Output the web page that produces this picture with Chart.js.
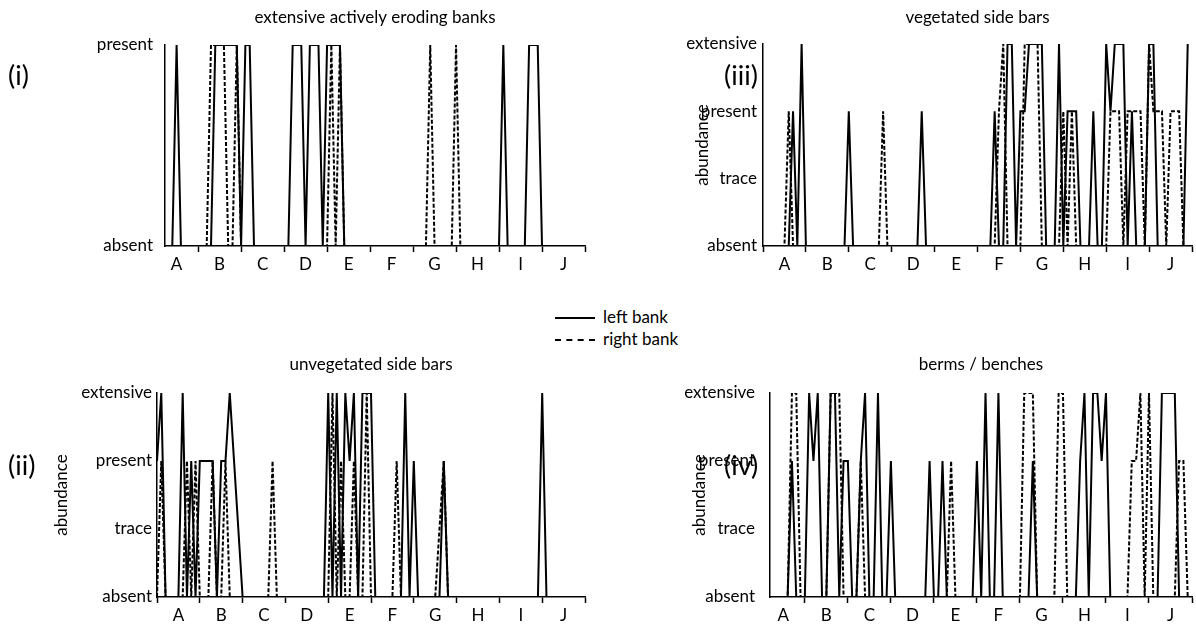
<!DOCTYPE html>
<html>
<head>
<meta charset="utf-8">
<script src="https://cdn.jsdelivr.net/npm/chart.js@4"></script>
<style>
  body { margin: 0; width: 1196px; height: 626px; background: #fff; position: relative; overflow: hidden; font-family: Lato, sans-serif; color: #000; }
  canvas { position: absolute; }
  .tag { position: absolute; font-size: 27px; line-height: 28px; }
  .leg-line { position: absolute; width: 40px; height: 0; }
  .leg-text { position: absolute; font-size: 17px; line-height: 20px; white-space: nowrap; }
</style>
</head>
<body>
<canvas id="c1" width="600" height="280" style="left:0;top:0"></canvas>
<canvas id="c3" width="596" height="280" style="left:600px;top:0"></canvas>
<canvas id="c2" width="600" height="276" style="left:0;top:350px"></canvas>
<canvas id="c4" width="596" height="276" style="left:600px;top:350px"></canvas>

<div class="tag" style="left:8px;top:61px">(i)</div>
<div class="tag" style="left:724px;top:61px">(iii)</div>
<div class="tag" style="left:8px;top:451px">(ii)</div>
<div class="tag" style="left:724px;top:451px">(iv)</div>

<div class="leg-line" style="left:555px;top:317px;border-top:2px solid #000"></div>
<div class="leg-text" style="left:603px;top:307px">left bank</div>
<div class="leg-line" style="left:555px;top:339px;border-top:2px dashed #000"></div>
<div class="leg-text" style="left:603px;top:329px">right bank</div>

<script>
// river reaches along the x axis, 10 survey points per reach
const reaches = ['A', 'B', 'C', 'D', 'E', 'F', 'G', 'H', 'I', 'J'];
const presenceLevels = ['absent', 'present'];
const abundanceLevels = ['absent', 'trace', 'present', 'extensive'];

// (i) extensive actively eroding banks
const erodingLeft = [
  0,0,0,0,0,1,0,0,0,0,
  0,0,0,0,1,1,1,1,1,1,
  0,1,1,0,0,0,0,0,0,0,
  0,0,1,1,1,0,1,1,1,0,
  1,1,1,1,0,0,0,0,0,0,
  0,0,0,0,0,0,0,0,0,0,
  0,0,0,0,0,0,0,0,0,0,
  0,0,0,0,0,0,0,0,0,0,
  0,1,0,0,0,0,0,1,1,1,
  0,0,0,0,0,0,0,0,0,0
];
const erodingRight = [
  0,0,0,0,0,0,0,0,0,0,
  0,0,0,1,1,1,1,0,0,1,
  0,0,0,0,0,0,0,0,0,0,
  0,0,0,0,0,0,0,0,0,0,
  0,1,0,1,0,0,0,0,0,0,
  0,0,0,0,0,0,0,0,0,0,
  0,0,0,0,1,0,0,0,0,0,
  1,0,0,0,0,0,0,0,0,0,
  0,0,0,0,0,0,0,0,0,0,
  0,0,0,0,0,0,0,0,0,0
];

// (ii) unvegetated side bars
const unvegLeft = [
  2,3,0,0,0,0,3,0,2,0,
  2,2,2,2,0,2,2,3,2,1,
  0,0,0,0,0,0,0,0,0,0,
  0,0,0,0,0,0,0,0,0,0,
  3,0,3,0,3,2,3,0,3,3,
  3,0,0,0,0,0,0,0,3,0,
  2,0,0,0,0,0,0,2,0,0,
  0,0,0,0,0,0,0,0,0,0,
  0,0,0,0,0,0,0,0,0,0,
  3,0,0,0,0,0,0,0,0,0
];
const unvegRight = [
  0,2,0,0,0,0,0,2,0,2,
  0,0,0,2,0,0,2,0,0,0,
  0,0,0,0,0,0,0,2,0,0,
  0,0,0,0,0,0,0,0,0,0,
  0,3,0,2,0,0,2,0,0,3,
  0,0,0,0,0,0,2,0,0,0,
  0,0,0,0,0,0,1,2,0,0,
  0,0,0,0,0,0,0,0,0,0,
  0,0,0,0,0,0,0,0,0,0,
  0,0,0,0,0,0,0,0,0,0
];

// (iii) vegetated side bars
const vegLeft = [
  0,0,0,0,0,0,0,2,0,3,
  0,0,0,0,0,0,0,0,0,0,
  2,0,0,0,0,0,0,0,0,0,
  0,0,0,0,0,0,0,2,0,0,
  0,0,0,0,0,0,0,0,0,0,
  0,0,0,0,2,0,0,3,3,0,
  2,2,3,3,3,3,0,0,0,3,
  0,2,2,2,0,0,0,2,0,0,
  3,2,3,3,3,0,2,0,0,0,
  3,3,0,0,0,0,0,0,0,3
];
const vegRight = [
  0,0,0,0,0,0,2,0,0,0,
  0,0,0,0,0,0,0,0,0,0,
  0,0,0,0,0,0,0,0,2,0,
  0,0,0,0,0,0,0,0,0,0,
  0,0,0,0,0,0,0,0,0,0,
  0,0,0,0,0,2,3,0,0,0,
  0,3,3,3,3,0,0,0,0,0,
  2,0,2,0,0,0,0,0,0,0,
  0,2,2,2,0,2,2,2,2,0,
  3,2,2,2,0,2,2,2,0,0
];

// (iv) berms / benches
const bermLeft = [
  0,0,0,0,0,0,0,2,0,0,
  0,3,2,3,0,0,3,3,0,2,
  2,0,0,2,3,0,0,3,0,0,
  2,0,0,0,0,0,0,0,0,2,
  0,0,2,0,0,0,0,0,0,0,
  2,0,3,0,0,3,0,0,0,0,
  0,0,0,2,0,0,0,0,0,0,
  0,0,0,0,2,3,0,3,3,2,
  3,0,0,0,0,0,0,0,0,0,
  0,0,0,3,3,3,3,0,0,0
];
const bermRight = [
  0,0,0,0,0,0,0,3,3,0,
  0,0,0,0,0,0,3,3,3,0,
  0,0,0,2,0,0,0,0,0,0,
  0,0,0,0,0,0,0,0,0,0,
  0,0,0,0,2,0,0,0,0,0,
  0,0,0,0,0,0,0,0,0,0,
  0,3,3,3,0,0,0,0,0,3,
  3,0,0,0,0,0,0,0,0,0,
  0,0,0,0,0,0,2,2,3,0,
  3,0,0,0,0,0,0,2,2,0
];

const FONT = 'Lato';
const FS = 17;

function toPoints(values) {
  return values.map((v, i) => ({ x: i, y: v }));
}

function makePanel(id, cfg) {
  const levels = cfg.levels;
  new Chart(document.getElementById(id), {
    type: 'line',
    data: {
      datasets: [
        { label: 'left bank', data: toPoints(cfg.left), borderColor: '#000', borderWidth: 2, pointRadius: 0, tension: 0, fill: false },
        { label: 'right bank', data: toPoints(cfg.right), borderColor: '#000', borderWidth: 2, borderDash: [4, 2], pointRadius: 0, tension: 0, fill: false }
      ]
    },
    options: {
      responsive: false,
      animation: false,
      devicePixelRatio: 1,
      layout: { padding: { left: 0, right: cfg.padRight, top: 0, bottom: cfg.padBottom } },
      plugins: {
        legend: { display: false },
        tooltip: { enabled: false },
        title: {
          display: true,
          text: cfg.title,
          fullSize: false,
          color: '#000',
          font: { family: FONT, size: FS, weight: 'normal' },
          padding: { top: cfg.titleTop, bottom: cfg.titleBottom }
        }
      },
      scales: {
        x: {
          type: 'linear',
          min: cfg.xMin,
          max: 100,
          afterBuildTicks: (axis) => {
            const t = [];
            for (let k = 0; k <= reaches.length; k++) {
              if (k * 10 >= cfg.xMin) t.push({ value: k * 10 });
              if (k < reaches.length) t.push({ value: k * 10 + 5 });
            }
            axis.ticks = t;
          },
          afterFit: (s) => { s.height = 30; },
          ticks: {
            autoSkip: false,
            maxRotation: 0,
            padding: 2,
            color: '#000',
            font: { family: FONT, size: FS },
            callback: (v) => (v % 10 === 5 ? reaches[(v - 5) / 10] : '')
          },
          grid: {
            display: true,
            drawOnChartArea: false,
            drawTicks: true,
            tickLength: 6,
            tickWidth: 1.5,
            tickColor: (c) => (c.tick && c.tick.value % 10 === 0 ? '#000' : 'rgba(0,0,0,0)')
          },
          border: { display: true, color: '#000', width: 1.5 }
        },
        y: {
          min: 0,
          max: levels.length - 1,
          afterFit: (s) => { s.width = cfg.yWidth; },
          ticks: {
            stepSize: 1,
            padding: cfg.labelPad,
            color: '#000',
            font: { family: FONT, size: FS },
            callback: (v) => levels[v]
          },
          grid: { display: false, drawTicks: false },
          border: { display: true, color: '#000', width: 1.5 },
          title: {
            display: cfg.yTitle,
            text: 'abundance',
            color: '#000',
            font: { family: FONT, size: FS },
            padding: { top: cfg.yTitlePad, bottom: 0 }
          }
        }
      }
    }
  });
}

makePanel('c1', {
  title: 'extensive actively eroding banks', left: erodingLeft, right: erodingRight,
  levels: presenceLevels, xMin: 2.3, yWidth: 165, labelPad: 12, yTitle: false, yTitlePad: 0,
  padRight: 15, padBottom: 4, titleTop: 7.8, titleBottom: 16.8
});
makePanel('c3', {
  title: 'vegetated side bars', left: vegLeft, right: vegRight,
  levels: abundanceLevels, xMin: 0, yWidth: 163, labelPad: 6, yTitle: true, yTitlePad: 92,
  padRight: 4, padBottom: 4, titleTop: 7.8, titleBottom: 15.8
});
makePanel('c2', {
  title: 'unvegetated side bars', left: unvegLeft, right: unvegRight,
  levels: abundanceLevels, xMin: 0, yWidth: 157, labelPad: 5, yTitle: true, yTitlePad: 51,
  padRight: 15, padBottom: -1, titleTop: 4.8, titleBottom: 17.8
});
makePanel('c4', {
  title: 'berms / benches', left: bermLeft, right: bermRight,
  levels: abundanceLevels, xMin: 1.9, yWidth: 170, labelPad: 15, yTitle: true, yTitlePad: 89,
  padRight: 4, padBottom: -1, titleTop: 4.8, titleBottom: 17.8
});
</script>
</body>
</html>
